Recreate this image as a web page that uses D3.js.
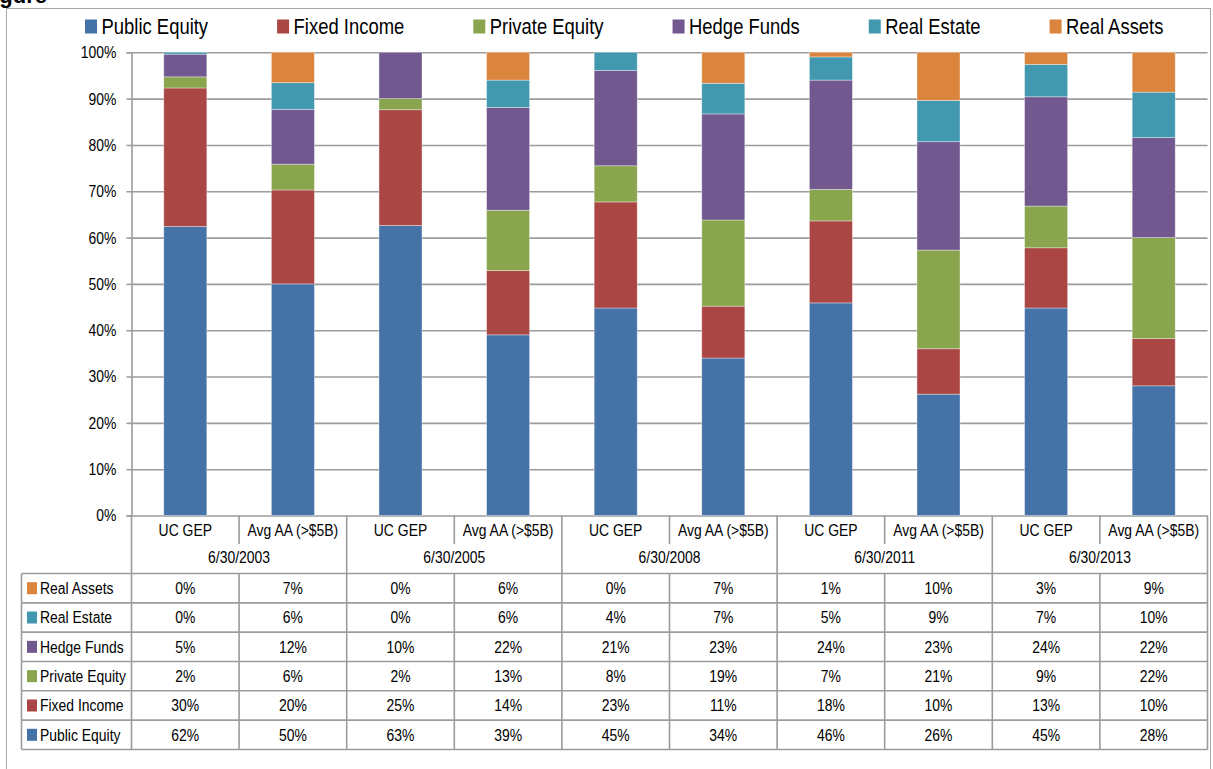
<!DOCTYPE html>
<html>
<head>
<meta charset="utf-8">
<script src="https://cdn.jsdelivr.net/npm/d3@7"></script>
<style>
  body { margin: 0; background: #fff; }
  text { font-family: "Liberation Sans", Arial, sans-serif; fill: #000; }
</style>
</head>
<body>
<div id="chart"></div>
<script>
// Dates and portfolios (two bars per date)
const dates = ["6/30/2003", "6/30/2005", "6/30/2008", "6/30/2011", "6/30/2013"];
const portfolios = ["UC GEP", "Avg AA (>$5B)"];
const assetClasses = ["Public Equity", "Fixed Income", "Private Equity", "Hedge Funds", "Real Estate", "Real Assets"];

// Allocation (%) per bar, in bar order: UC GEP / Avg AA for each date
const publicEquity  = [62.4, 50.3, 62.6, 39.0, 44.8, 34.0, 45.9, 26.2, 44.8, 28.0];
const fixedIncome   = [29.9, 20.4, 25.0, 13.9, 22.9, 11.2, 17.7,  9.8, 13.0, 10.2];
const privateEquity = [ 2.4,  5.6,  2.4, 13.0,  7.8, 18.6,  6.8, 21.3,  9.0, 21.8];
const hedgeFunds    = [ 4.9, 11.9, 10.0, 22.2, 20.6, 22.9, 23.6, 23.4, 23.6, 21.6];
const realEstate    = [ 0.4,  5.8,  0.0,  5.9,  3.9,  6.6,  5.0,  8.9,  7.0,  9.8];
const realAssets    = [ 0.0,  6.6,  0.0,  6.0,  0.0,  6.7,  1.0, 10.4,  2.6,  8.6];

const colors = ["#4572A7", "#AA4643", "#89A54E", "#71588F", "#4198AF", "#DB843D"];
const series = [publicEquity, fixedIncome, privateEquity, hedgeFunds, realEstate, realAssets];

// Build one row per bar
const bars = [];
dates.forEach((d, gi) => {
  portfolios.forEach((p, pi) => {
    const i = gi * 2 + pi;
    const row = { id: i, date: d, portfolio: p };
    assetClasses.forEach((k, ki) => row[k] = series[ki][i]);
    bars.push(row);
  });
});

const width = 1213, height = 769;
const plotLeft = 131.5, plotRight = 1207.5, plotTop = 52.3, plotBottom = 515.5;
const gridColor = "#9c9c9c";
const squeeze = 0.82; // narrow the glyphs a bit, like the original's condensed font

// move x/y into a transform so the text can be squeezed horizontally
function narrow(sel) {
  sel.each(function() {
    const t = d3.select(this);
    const tx = +t.attr("x") || 0, ty = +t.attr("y") || 0;
    t.attr("x", 0).attr("y", 0)
      .attr("transform", `translate(${tx},${ty}) scale(${squeeze},1)`);
  });
}

const svg = d3.select("#chart").append("svg")
  .attr("width", width)
  .attr("height", height);

// Outer frame
svg.append("rect")
  .attr("x", 6.5).attr("y", 8.5)
  .attr("width", 1204).attr("height", 790)
  .attr("fill", "none").attr("stroke", "#a8a8a8").attr("stroke-width", 1);

// Clipped figure caption at the very top
svg.append("text")
  .attr("x", 47).attr("y", 3)
  .attr("text-anchor", "end")
  .style("font-weight", "bold")
  .style("font-size", "22px")
  .text("Figure");

const x = d3.scaleBand()
  .domain(bars.map(d => d.id))
  .range([plotLeft, plotRight])
  .paddingInner(0.6)
  .paddingOuter(0.3);

const y = d3.scaleLinear().domain([0, 1]).range([plotBottom, plotTop]);

// Gridlines
svg.append("g")
  .attr("transform", `translate(${plotLeft},0)`)
  .call(d3.axisLeft(y).ticks(10).tickSize(-(plotRight - plotLeft)).tickFormat(""))
  .call(g => g.select(".domain").remove())
  .call(g => g.selectAll("line").attr("stroke", gridColor).attr("stroke-width", 1.6));

// Y axis
svg.append("g")
  .attr("transform", `translate(${plotLeft},0)`)
  .call(d3.axisLeft(y).ticks(10).tickSize(5).tickPadding(10).tickFormat(d3.format(".0%")))
  .call(g => g.select(".domain").attr("stroke", gridColor).attr("stroke-width", 1.6))
  .call(g => g.selectAll("line").attr("stroke", gridColor).attr("stroke-width", 1.6))
  .call(g => g.selectAll("text")
    .style("font-size", "17px").style("font-family", null).attr("fill", "#000")
    .attr("y", 0).call(narrow));

// Stacked bars (100%)
const stacked = d3.stack().keys(assetClasses).offset(d3.stackOffsetExpand)(bars);

svg.append("g").selectAll("g")
  .data(stacked)
  .join("g")
    .attr("fill", (d, i) => colors[i])
  .selectAll("rect")
  .data(d => d)
  .join("rect")
    .attr("x", d => x(d.data.id))
    .attr("width", x.bandwidth())
    .attr("y", d => y(d[1]))
    .attr("height", d => Math.max(0, y(d[0]) - y(d[1])))
    .attr("stroke", "#ffffff")
    .attr("stroke-opacity", 0.45)
    .attr("stroke-width", 0.8);

// Legend on top
const legend = svg.append("g");
let lx = 85;
assetClasses.forEach((k, i) => {
  legend.append("rect")
    .attr("x", lx).attr("y", 19.5)
    .attr("width", 12).attr("height", 14)
    .attr("fill", colors[i]);
  const t = legend.append("text")
    .attr("x", lx + 16.5).attr("y", 33.5)
    .style("font-size", "22.5px")
    .text(k)
    .call(narrow);
  lx += 16.5 + t.node().getComputedTextLength() * squeeze + 69;
});

// Category axis: portfolio row and date row
const step = x.step();
const lineStyle = sel => sel.attr("stroke", gridColor).attr("stroke-width", 1.6);
const catG = svg.append("g");

catG.selectAll("text.portfolio")
  .data(bars)
  .join("text")
    .attr("class", "portfolio")
    .attr("x", d => x(d.id) + x.bandwidth() / 2)
    .attr("y", 530)
    .attr("dy", "0.35em")
    .attr("text-anchor", "middle")
    .style("font-size", "17px")
    .text(d => d.portfolio)
    .call(narrow);

catG.selectAll("text.date")
  .data(dates)
  .join("text")
    .attr("class", "date")
    .attr("x", (d, i) => plotLeft + step * (2 * i + 1))
    .attr("y", 557)
    .attr("dy", "0.35em")
    .attr("text-anchor", "middle")
    .style("font-size", "17px")
    .text(d => d)
    .call(narrow);

// separators inside a date group (portfolio row only)
catG.selectAll("line.inner")
  .data(dates)
  .join("line")
    .attr("class", "inner")
    .attr("x1", (d, i) => plotLeft + step * (2 * i + 1))
    .attr("x2", (d, i) => plotLeft + step * (2 * i + 1))
    .attr("y1", plotBottom).attr("y2", 544)
    .call(lineStyle);

// separators between date groups
catG.selectAll("line.outer")
  .data(d3.range(dates.length + 1))
  .join("line")
    .attr("class", "outer")
    .attr("x1", i => plotLeft + step * 2 * i)
    .attr("x2", i => plotLeft + step * 2 * i)
    .attr("y1", plotBottom).attr("y2", 573.5)
    .call(lineStyle);

// Data table
const tableLeft = 21.5, tableTop = 573.5, rowH = 29.33;
const rowsOrder = assetClasses.slice().reverse();
const table = svg.append("g");

table.selectAll("line.hrow")
  .data(d3.range(rowsOrder.length + 1))
  .join("line")
    .attr("class", "hrow")
    .attr("x1", tableLeft).attr("x2", plotRight)
    .attr("y1", i => tableTop + i * rowH)
    .attr("y2", i => tableTop + i * rowH)
    .call(lineStyle);

table.selectAll("line.vcol")
  .data([tableLeft].concat(d3.range(bars.length + 1).map(i => plotLeft + step * i)))
  .join("line")
    .attr("class", "vcol")
    .attr("x1", d => d).attr("x2", d => d)
    .attr("y1", tableTop).attr("y2", tableTop + rowsOrder.length * rowH)
    .call(lineStyle);

rowsOrder.forEach((k, r) => {
  const cy = tableTop + r * rowH + rowH / 2;
  const ci = assetClasses.indexOf(k);
  table.append("rect")
    .attr("x", 27).attr("y", cy - 6)
    .attr("width", 10).attr("height", 12)
    .attr("fill", colors[ci]);
  table.append("text")
    .attr("x", 40).attr("y", cy)
    .attr("dy", "0.35em")
    .style("font-size", "17px")
    .text(k)
    .call(narrow);
  table.selectAll(null)
    .data(bars)
    .join("text")
      .attr("x", d => x(d.id) + x.bandwidth() / 2)
      .attr("y", cy)
      .attr("dy", "0.35em")
      .attr("text-anchor", "middle")
      .style("font-size", "17px")
      .text(d => Math.round(d[k]) + "%")
      .call(narrow);
});
</script>
</body>
</html>
